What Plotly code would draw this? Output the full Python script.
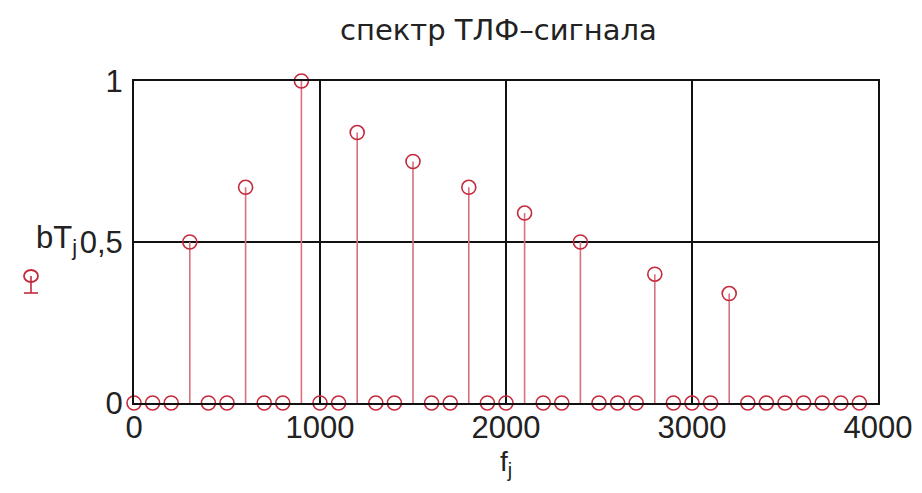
import plotly.graph_objects as go

# ---- data ----
freqs = [100 * j for j in range(40)]  # f_j, Hz
nonzero = {300: 0.5, 600: 0.67, 900: 1.0, 1200: 0.84, 1500: 0.75,
           1800: 0.67, 2100: 0.59, 2400: 0.5, 2800: 0.4, 3200: 0.34}
amps = [nonzero.get(f, 0.0) for f in freqs]  # bT_j

x_ticks = [0, 1000, 2000, 3000, 4000]
x_ticktext = ["0", "1000", "2000", "3000", "4000"]
y_ticks = [0, 0.5, 1]
y_ticktext = ["0", "0,5", "1"]

title_text = "спектр ТЛФ–сигнала"
x_label = "f<sub>j</sub>"
y_label = "bT<sub>j</sub>"

stem_col = "#d9707e"
mark_col = "#c42a3c"
font = "Liberation Sans, Arial, sans-serif"

# page is drawn with an 8px body margin -> figure is 8px smaller
W, H = 914, 485
L, T = 126, 73
R, B = 44, 90

# stems as one line trace with gaps
sx, sy = [], []
for f, a in zip(freqs, amps):
    if a > 0:
        sx += [f, f, None]
        sy += [0, a, None]

fig = go.Figure()
fig.add_trace(go.Scatter(x=sx, y=sy, mode="lines",
                         line=dict(color=stem_col, width=1.6),
                         hoverinfo="skip", showlegend=False, cliponaxis=False))
fig.add_trace(go.Scatter(x=freqs, y=amps, mode="markers",
                         marker=dict(symbol="circle-open", size=14,
                                     color=mark_col, line=dict(width=1.6)),
                         showlegend=False, cliponaxis=False))

fig.update_layout(
    width=W, height=H,
    margin=dict(l=L, r=R, t=T, b=B, autoexpand=False),
    paper_bgcolor="white", plot_bgcolor="white",
    font=dict(family=font, color="#222222", size=31),
    showlegend=False,
)
fig.add_annotation(text=title_text, xref="paper", yref="paper", x=0.49, y=1,
                   xanchor="center", yanchor="middle", yshift=51,
                   showarrow=False,
                   font=dict(family="DejaVu Sans, sans-serif", size=29,
                             color="#222222"))
fig.update_xaxes(range=[0, 4000], tickvals=x_ticks, ticktext=x_ticktext,
                 showgrid=True, gridcolor="#111111", gridwidth=2,
                 showline=True, linecolor="#111111", linewidth=2, mirror=True,
                 zeroline=False, ticks="", ticklabelstandoff=-4, automargin=False)
fig.update_yaxes(range=[0, 1], tickvals=y_ticks, ticktext=y_ticktext,
                 showgrid=True, gridcolor="#111111", gridwidth=2,
                 showline=True, linecolor="#111111", linewidth=2, mirror=True,
                 zeroline=False, ticks="", ticklabelstandoff=3, automargin=False)

# x-axis label
fig.add_annotation(text=x_label, xref="paper", yref="paper", x=0.5, y=0,
                   xanchor="center", yanchor="middle", yshift=-60,
                   showarrow=False, font=dict(size=28, color="#222222"))
# y-axis label placed next to the 0,5 tick label
fig.add_annotation(text=y_label, xref="paper", yref="y", x=0, y=0.5,
                   xanchor="right", yanchor="middle", xshift=-55, yshift=2,
                   showarrow=False, font=dict(size=31, color="#222222"))

# legend-like symbol below the y label (circle on a stem)
cx = (31 - 134) / 744.0
cy = (403 - 276) / 322.0
fig.add_shape(type="circle", xref="paper", yref="paper",
              xsizemode="pixel", ysizemode="pixel", xanchor=cx, yanchor=cy,
              x0=-7, x1=7, y0=-6, y1=6,
              line=dict(color=mark_col, width=1.8))
fig.add_shape(type="line", xref="paper", yref="paper",
              xsizemode="pixel", ysizemode="pixel", xanchor=cx, yanchor=cy,
              x0=0, x1=0, y0=0, y1=-17, line=dict(color=mark_col, width=1.6))
fig.add_shape(type="line", xref="paper", yref="paper",
              xsizemode="pixel", ysizemode="pixel", xanchor=cx, yanchor=cy,
              x0=-7, x1=7, y0=-17, y1=-17, line=dict(color=mark_col, width=1.6))

fig.write_html("out.html")
